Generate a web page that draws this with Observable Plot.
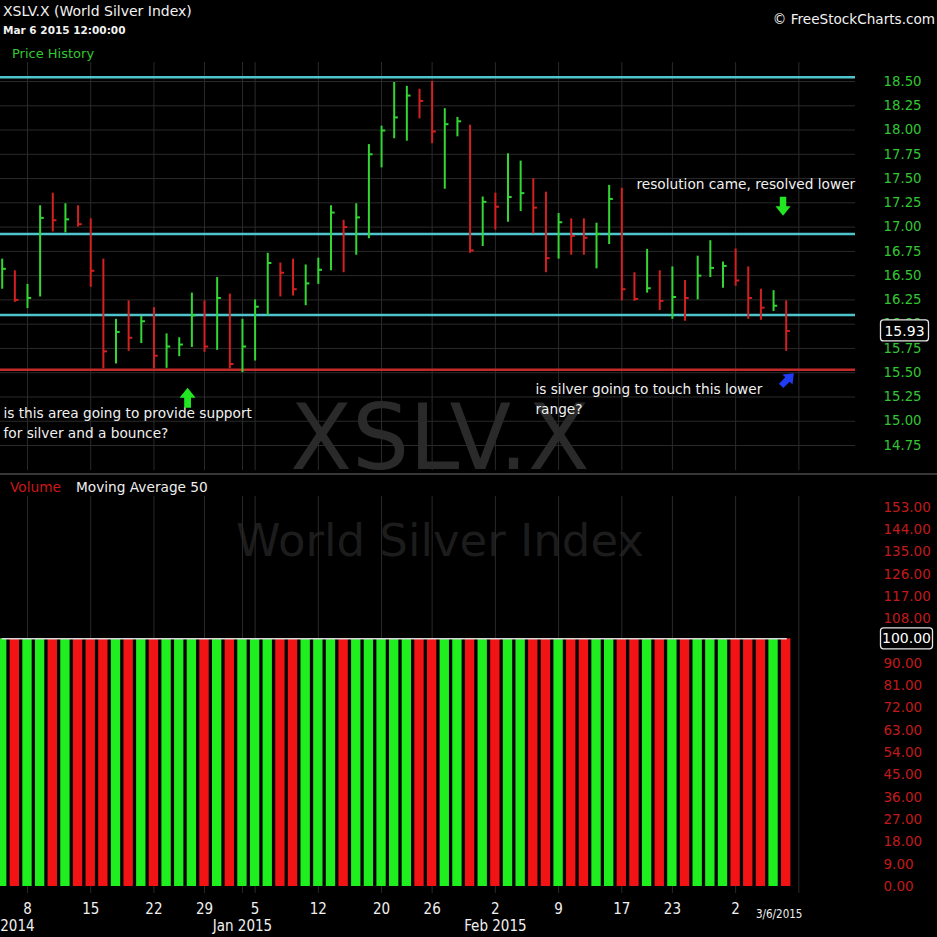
<!DOCTYPE html>
<html><head><meta charset="utf-8">
<script src="https://cdn.jsdelivr.net/npm/d3@7"></script>
<script src="https://cdn.jsdelivr.net/npm/@observablehq/plot@0.6"></script>
<style>
html,body{margin:0;padding:0;background:#000;}
#wrap{position:relative;width:937px;height:937px;background:#000;overflow:hidden;font-family:"DejaVu Sans",sans-serif;}
#wrap svg{position:absolute;left:0;}
.t{position:absolute;white-space:nowrap;line-height:1;}
</style></head><body><div id="wrap">
<div class="t" style="left:3px;top:4px;font-size:14px;color:#f2f2f2;">XSLV.X (World Silver Index)</div>
<div class="t" style="left:3px;top:25px;font-size:10.5px;font-weight:bold;color:#f2f2f2;">Mar 6 2015 12:00:00</div>
<div class="t" style="left:12px;top:47px;font-size:13px;color:#33c633;">Price History</div>
<div class="t" style="right:2px;top:13px;font-size:13.6px;color:#f2f2f2;">© FreeStockCharts.com</div>
<div class="t" style="left:10px;top:481px;font-size:13.7px;color:#cc1818;">Volume</div>
<div class="t" style="left:76px;top:481px;font-size:13.7px;color:#eeeeee;">Moving Average 50</div>
</div>
<script>
// ---- data ----
const dates = [
 "2014-12-04","2014-12-05","2014-12-08","2014-12-09","2014-12-10","2014-12-11","2014-12-12",
 "2014-12-15","2014-12-16","2014-12-17","2014-12-18","2014-12-19","2014-12-22","2014-12-23",
 "2014-12-24","2014-12-26","2014-12-29","2014-12-30","2014-12-31","2015-01-02","2015-01-05",
 "2015-01-06","2015-01-07","2015-01-08","2015-01-09","2015-01-12","2015-01-13","2015-01-14",
 "2015-01-15","2015-01-16","2015-01-20","2015-01-21","2015-01-22","2015-01-23","2015-01-26",
 "2015-01-27","2015-01-28","2015-01-29","2015-01-30","2015-02-02","2015-02-03","2015-02-04",
 "2015-02-05","2015-02-06","2015-02-09","2015-02-10","2015-02-11","2015-02-12","2015-02-13",
 "2015-02-17","2015-02-18","2015-02-19","2015-02-20","2015-02-23","2015-02-24","2015-02-25",
 "2015-02-26","2015-02-27","2015-03-02","2015-03-03","2015-03-04","2015-03-05","2015-03-06"];
const highs = [16.67,16.55,16.41,17.22,17.35,17.24,17.22,17.085,16.67,16.05,16.24,16.08,16.17,15.90,
 15.86,16.32,16.24,16.48,16.31,16.05,16.25,16.73,16.63,16.67,16.61,16.68,17.22,17.07,17.24,17.85,
 18.04,18.49,18.45,18.42,18.50,18.22,18.13,18.05,17.31,17.35,17.755,17.68,17.50,17.36,17.14,17.085,
 17.085,17.04,17.43,17.40,16.53,16.77,16.55,16.59,16.45,16.70,16.86,16.64,16.775,16.59,16.36,16.345,16.24];
const lows = [16.36,16.225,16.16,16.28,16.95,16.94,17.00,16.38,15.54,15.59,15.72,15.80,15.54,15.545,
 15.665,15.76,15.71,15.73,15.54,15.50,15.62,16.09,16.28,16.29,16.19,16.41,16.55,16.53,16.71,16.88,
 17.61,17.91,17.885,18.115,17.86,17.39,17.93,16.73,16.80,16.97,17.05,17.16,16.93,16.53,16.67,16.71,
 16.71,16.57,16.82,16.24,16.235,16.32,16.14,16.05,16.03,16.25,16.48,16.37,16.39,16.05,16.04,16.13,15.72];
const closes = [16.57,16.25,16.27,17.095,17.07,17.08,17.03,16.55,15.72,15.92,15.86,16.03,15.675,15.77,
 15.79,16.09,15.77,16.27,15.59,15.77,16.18,16.63,16.53,16.36,16.42,16.56,17.15,17.00,17.10,17.75,
 17.995,18.13,18.355,18.30,17.985,18.06,18.09,16.76,17.26,17.21,17.31,17.35,17.20,16.68,17.05,16.91,
 16.89,16.93,17.29,16.36,16.26,16.37,16.24,16.28,16.27,16.50,16.58,16.60,16.45,16.27,16.17,16.19,15.93];
const volumes = [100,100,100,100,100,100,100,100,100,100,100,100,100,100,100,100,100,100,100,100,100,
 100,100,100,100,100,100,100,100,100,100,100,100,100,100,100,100,100,100,100,100,100,100,100,100,100,
 100,100,100,100,100,100,100,100,100,100,100,100,100,100,100,100,100];
const resistanceLevels = [18.545, 16.93, 16.095];
const supportLevels = [15.53];
const priceTicks = [14.75,15.00,15.25,15.50,15.75,16.00,16.25,16.50,16.75,17.00,17.25,17.50,17.75,18.00,18.25,18.50];
const volumeTicks = [0,9,18,27,36,45,54,63,72,81,90,108,117,126,135,144,153];
const weekTickDates = ["2014-12-08","2014-12-15","2014-12-22","2014-12-29","2015-01-05","2015-01-12",
 "2015-01-20","2015-01-26","2015-02-02","2015-02-09","2015-02-17","2015-02-23","2015-03-02"];
const weekTickLabels = ["8","15","22","29","5","12","20","26","2","9","17","23","2"];
const monthDates = ["2014-12-04","2015-01-02","2015-02-02"];
const monthLabels = ["Dec 2014","Jan 2015","Feb 2015"];
const lastLabel = "3/6/2015";
const notes = [
 {i:50.16, p:17.438, text:"resolution came, resolved lower"},
 {i:42.17, p:15.325, text:"is silver going to touch this lower"},
 {i:42.17, p:15.119, text:"range?"},
 {i:0.1, p:15.077, text:"is this area going to provide support"},
 {i:0.1, p:14.871, text:"for silver and a bounce?"}
];
const arrows = [
 {i:14.66, p:15.242, len:20, rot:0, color:"#22e622"},
 {i:61.75, p:17.215, len:19, rot:180, color:"#22e622"},
 {i:62.1, p:15.43, len:18, rot:45, color:"#1f3cf2"}
];

// ---- build ----
const GREEN = "#33d633", RED = "#d42020";
const VGREEN = "#1fee1f", VRED = "#f21414";
const idx = d => dates.indexOf(d);
const bars = dates.map((d, i) => ({
  i, date: d, high: highs[i], low: lows[i], close: closes[i], volume: volumes[i],
  up: i === 0 ? true : closes[i] >= closes[i - 1]
}));
const gridIdx = [...weekTickDates.map(idx), idx("2015-01-02"), dates.length];
const xOpt = {domain: [0, dates.length - 1], range: [1.7, 785.7], axis: null};
const FONT = '"DejaVu Sans", sans-serif';
const COND = '"DejaVu Sans Condensed", "DejaVu Sans", sans-serif';
const fatArrow = {draw(ctx, l) {
  const h = l * 0.5, hw = l * 0.4, sw = l * 0.17;
  ctx.moveTo(-sw, 0); ctx.lineTo(-sw, -l + h); ctx.lineTo(-hw, -l + h); ctx.lineTo(0, -l);
  ctx.lineTo(hw, -l + h); ctx.lineTo(sw, -l + h); ctx.lineTo(sw, 0); ctx.closePath();
}};
const f2 = d3.format(".2f");

const price = Plot.plot({
  width: 937, height: 476, marginLeft: 0, marginRight: 82, marginTop: 62, marginBottom: 6,
  style: {background: "transparent", color: "#fff", fontFamily: FONT, overflow: "visible"},
  x: xOpt,
  y: {domain: [14.75, 18.5], range: [445, 81], axis: null},
  marks: [
    Plot.text(["XSLV.X"], {frameAnchor: "middle", dx: 12, dy: 174, fontSize: 90, fill: "#2a2a2a"}),
    Plot.gridY(priceTicks, {stroke: "#2a2a2a", strokeOpacity: 1}),
    Plot.gridX(gridIdx, {stroke: "#2a2a2a", strokeOpacity: 1}),
    Plot.ruleY(resistanceLevels, {stroke: "#4fc4cd", strokeWidth: 2.5}),
    Plot.ruleY(supportLevels, {stroke: "#c42a2a", strokeWidth: 2.5}),
    Plot.ruleX(bars, {x: "i", y1: "low", y2: "high", stroke: d => d.up ? GREEN : RED, strokeWidth: 2}),
    Plot.ruleY(bars, {y: "close", x1: "i", x2: d => d.i + 0.33, stroke: d => d.up ? GREEN : RED, strokeWidth: 2}),
    Plot.axisY(priceTicks, {anchor: "right", label: null, tickSize: 0, tickPadding: 28, tickFormat: f2, fill: "#33c633", fontSize: 13.3, fontFamily: FONT}),
    Plot.text(notes, {x: "i", y: "p", text: "text", textAnchor: "start", fill: "#f0f0f0", fontSize: 13.7}),
    ...arrows.map(a => Plot.vector([a], {x: "i", y: "p", length: a.len, rotate: a.rot, shape: fatArrow, fill: a.color, stroke: "none"}))
  ]
});
price.style.top = "0px";

const vol = Plot.plot({
  width: 937, height: 461, marginLeft: 0, marginRight: 82, marginTop: 20, marginBottom: 44,
  style: {background: "transparent", color: "#fff", fontFamily: FONT, overflow: "visible"},
  x: xOpt,
  y: {domain: [0, 153], range: [410, 31], axis: null},
  marks: [
    Plot.text(["World Silver Index"], {frameAnchor: "middle", dx: 12, dy: -153, fontSize: 45, fill: "#1c1c1c"}),
    Plot.gridX(gridIdx, {stroke: "#2a2a2a", strokeOpacity: 1}),
    Plot.rect(bars, {x1: d => d.i - 0.37, x2: d => d.i + 0.37, y1: 0, y2: "volume", fill: d => d.up ? VGREEN : VRED}),
    Plot.lineY(bars, Plot.windowY({k: 50, reduce: "mean", anchor: "end"}, {x: "i", y: "volume", stroke: "#d8d8d8", strokeWidth: 1.5})),
    Plot.axisY(volumeTicks, {anchor: "right", label: null, tickSize: 0, tickPadding: 28, tickFormat: f2, fill: "#c01a1a", fontSize: 13.5, fontFamily: FONT}),
    Plot.text(weekTickDates, {x: idx, text: (d, k) => weekTickLabels[k], frameAnchor: "bottom", dy: 20, fill: "#f0f0f0", fontSize: 15, fontFamily: COND}),
    Plot.text(monthDates, {x: idx, text: (d, k) => monthLabels[k], frameAnchor: "bottom", dy: 37, fill: "#f0f0f0", fontSize: 15, fontFamily: COND}),
    Plot.text([dates[dates.length - 1]], {x: idx, text: [lastLabel], frameAnchor: "bottom", dy: 24, dx: -7, fill: "#f0f0f0", fontSize: 11.5, fontFamily: COND})
  ]
});
vol.style.top = "476px";

const wrap = document.getElementById("wrap");
wrap.appendChild(price);
wrap.appendChild(vol);

// separator line between panels
d3.select(vol).append("line").attr("x1", 0).attr("x2", 937).attr("y1", -2).attr("y2", -2)
  .attr("stroke", "#4a4a4a").attr("stroke-width", 1.5);

// value boxes on the right axes
function valueBox(svg, yScale, value, w) {
  const y = yScale.apply(value);
  const g = d3.select(svg).append("g");
  g.append("rect").attr("x", 880.5).attr("y", y - 10.5).attr("width", w).attr("height", 21).attr("rx", 3)
    .attr("fill", "#000").attr("stroke", "#e6e6e6").attr("stroke-width", 1.3);
  g.append("text").attr("x", 880.5 + w / 2).attr("y", y).attr("dy", "0.36em").attr("text-anchor", "middle")
    .attr("fill", "#fff").attr("font-size", 14).attr("font-family", FONT).text(f2(value));
}
valueBox(price, price.scale("y"), closes[closes.length - 1], 48);
valueBox(vol, vol.scale("y"), volumes[volumes.length - 1], 52);
</script></body></html>
